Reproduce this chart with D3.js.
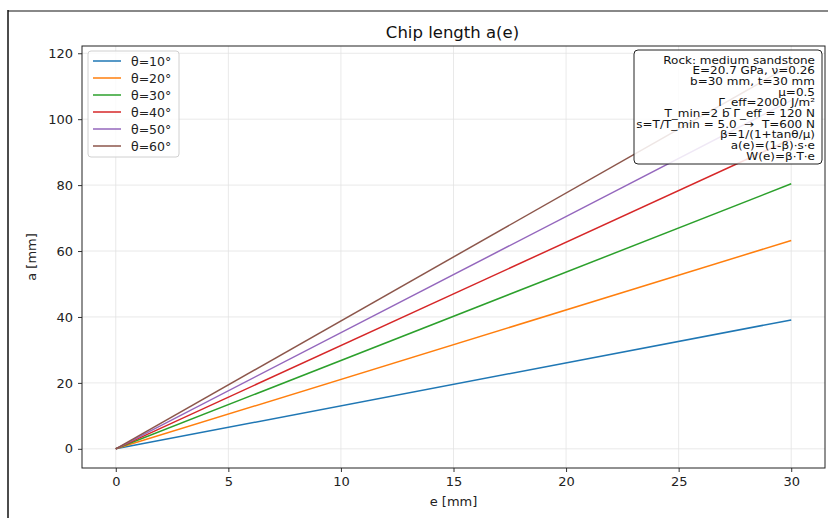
<!DOCTYPE html>
<html>
<head>
<meta charset="utf-8">
<script src="https://cdn.jsdelivr.net/npm/d3@7"></script>
<style>
  body { margin: 0; background: #fff; }
  svg { font-family: "DejaVu Sans", sans-serif; }
</style>
</head>
<body>
<script>
// data: straight lines from origin to e=30
var eValues = [0, 30];
var thetaLabels = ['θ=10°', 'θ=20°', 'θ=30°', 'θ=40°', 'θ=50°', 'θ=60°'];
var chipA10 = [0, 39.1];
var chipA20 = [0, 63.2];
var chipA30 = [0, 80.4];
var chipA40 = [0, 94.0];
var chipA50 = [0, 105.7];
var chipA60 = [0, 116.4];
var colors = ['#1f77b4', '#ff7f0e', '#2ca02c', '#d62728', '#9467bd', '#8c564b'];
var xTicks = [0, 5, 10, 15, 20, 25, 30];
var yTicks = [0, 20, 40, 60, 80, 100, 120];
var infoLines = [
  'Rock: medium sandstone',
  'E=20.7 GPa, ν=0.26',
  'b=30 mm, t=30 mm',
  'μ=0.5',
  'Γ_eff=2000 J/m²',
  'T_min=2 b Γ_eff = 120 N',
  's=T/T_min = 5.0  →  T=600 N',
  'β=1/(1+tanθ/μ)',
  'a(e)=(1-β)·s·e',
  'W(e)=β·T·e'
];

var series = [chipA10, chipA20, chipA30, chipA40, chipA50, chipA60];

var W = 828, H = 518;
var svg = d3.select('body').append('svg')
    .attr('width', W)
    .attr('height', H);

// outer frame bits from the screenshot
svg.append('line').attr('x1', 8).attr('x2', W).attr('y1', 11).attr('y2', 11)
    .style('stroke', '#888').style('stroke-width', 2);
svg.append('line').attr('x1', 8).attr('x2', 8).attr('y1', 10).attr('y2', H)
    .style('stroke', '#111').style('stroke-width', 1.5);

var plotL = 82, plotR = 825, plotT = 46, plotB = 468;

var x = d3.scaleLinear().domain([-1.5, 31.5]).range([plotL, plotR]);
var y = d3.scaleLinear().domain([-5.82, 122.2]).range([plotB, plotT]);

// grid
var grid = svg.append('g');
grid.selectAll('line.gx').data(xTicks).enter().append('line')
    .attr('x1', function (d) { return x(d); })
    .attr('x2', function (d) { return x(d); })
    .attr('y1', plotT).attr('y2', plotB)
    .style('stroke', '#e3e3e3').style('stroke-width', 0.8);
grid.selectAll('line.gy').data(yTicks).enter().append('line')
    .attr('y1', function (d) { return y(d); })
    .attr('y2', function (d) { return y(d); })
    .attr('x1', plotL).attr('x2', plotR)
    .style('stroke', '#e3e3e3').style('stroke-width', 0.8);

// lines
var line = d3.line()
    .x(function (d, i) { return x(eValues[i]); })
    .y(function (d) { return y(d); });

svg.selectAll('path.series').data(series).enter().append('path')
    .attr('class', 'series')
    .attr('d', line)
    .style('fill', 'none')
    .style('stroke', function (d, i) { return colors[i]; })
    .style('stroke-width', 1.5);

// axes
var xAxis = svg.append('g')
    .attr('transform', 'translate(0,' + plotB + ')')
    .call(d3.axisBottom(x).tickValues(xTicks).tickSize(4).tickPadding(5));
var yAxis = svg.append('g')
    .attr('transform', 'translate(' + plotL + ',0)')
    .call(d3.axisLeft(y).tickValues(yTicks).tickSize(4).tickPadding(5));

[xAxis, yAxis].forEach(function (a) {
  a.select('.domain').remove();
  a.selectAll('text').style('font-size', '13px').style('fill', '#222')
    .style('font-family', '"DejaVu Sans", sans-serif');
  a.selectAll('line').style('stroke', '#333');
});

// frame of the axes
svg.append('rect')
    .attr('x', plotL).attr('y', plotT)
    .attr('width', plotR - plotL).attr('height', plotB - plotT)
    .style('fill', 'none').style('stroke', '#222').style('stroke-width', 1);

// title and axis labels
svg.append('text').attr('x', (plotL + plotR) / 2 - 1).attr('y', 38)
    .attr('text-anchor', 'middle').style('font-size', '16.5px').style('fill', '#111')
    .text('Chip length a(e)');
svg.append('text').attr('x', (plotL + plotR) / 2).attr('y', 506)
    .attr('text-anchor', 'middle').style('font-size', '13px').style('fill', '#222')
    .text('e [mm]');
svg.append('text')
    .attr('transform', 'translate(36,' + ((plotT + plotB) / 2) + ') rotate(-90)')
    .attr('text-anchor', 'middle').style('font-size', '13px').style('fill', '#222')
    .text('a [mm]');

// legend
var legend = svg.append('g');
legend.append('rect')
    .attr('x', 88).attr('y', 51).attr('width', 91).attr('height', 106).attr('rx', 3)
    .style('fill', 'rgba(255,255,255,0.8)').style('stroke', '#d0d0d0');
var items = legend.selectAll('g.item').data(thetaLabels).enter().append('g')
    .attr('transform', function (d, i) { return 'translate(0,' + (61 + i * 17) + ')'; });
items.append('line').attr('x1', 93).attr('x2', 121).attr('y1', 0).attr('y2', 0)
    .style('stroke', function (d, i) { return colors[i]; }).style('stroke-width', 1.5);
items.append('text').attr('x', 131).attr('y', 4.5)
    .style('font-size', '12.5px').style('fill', '#222')
    .text(function (d) { return d; });

// info box
var info = svg.append('g');
info.append('rect')
    .attr('x', 634).attr('y', 50).attr('width', 188).attr('height', 114).attr('rx', 4)
    .style('fill', 'rgba(255,255,255,0.85)').style('stroke', '#222').style('stroke-width', 1);
info.selectAll('text').data(infoLines).enter().append('text')
    .attr('transform', function (d, i) { return 'translate(815,' + (63.5 + i * 10.7) + ') scale(1,0.88)'; })
    .attr('text-anchor', 'end')
    .style('white-space', 'pre')
    .style('font-size', '12px').style('fill', '#111')
    .text(function (d) { return d; });
</script>
</body>
</html>
